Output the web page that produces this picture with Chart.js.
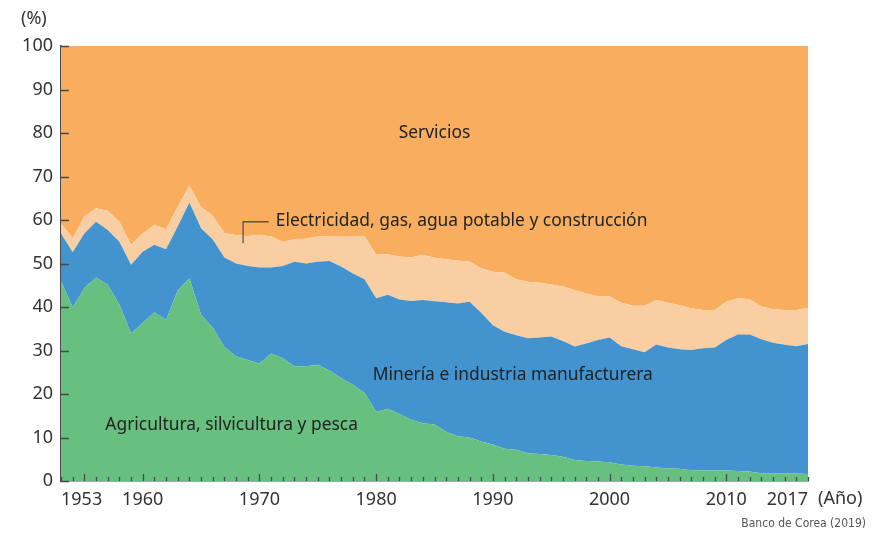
<!DOCTYPE html>
<html>
<head>
<meta charset="utf-8">
<script src="https://cdn.jsdelivr.net/npm/chart.js@4.4.1/dist/chart.umd.min.js"></script>
<style>
  html, body { margin: 0; padding: 0; background: #fff; }
  #wrap { width: 874px; height: 535px; position: relative; }
</style>
</head>
<body>
<div id="wrap"><canvas id="sectorChart"></canvas></div>
<script>
// years 1953-2017
const years = [];
for (let y = 1953; y <= 2017; y++) years.push(y);

const tickYears = [1953, 1960, 1970, 1980, 1990, 2000, 2010, 2017];
const majorTickYears = [1955, 1960, 1970, 1980, 1990, 2000, 2010];
const yTicks = [0, 10, 20, 30, 40, 50, 60, 70, 80, 90, 100];

// shares in %
const agricultura = [
  46.0, 39.9, 44.3, 46.8, 45.1, 40.6, 33.9, 36.3, 38.8, 37.0,
  43.8, 46.6, 38.2, 35.3, 30.8, 28.7, 27.8, 27.0, 29.3, 28.2,
  26.4, 26.4, 26.7, 25.4, 23.7, 22.1, 20.3, 15.9, 16.6, 15.4,
  14.1, 13.3, 13.0, 11.3, 10.3, 10.0, 9.1, 8.4, 7.4, 7.2,
  6.4, 6.2, 6.0, 5.6, 4.8, 4.6, 4.5, 4.3, 3.8, 3.5,
  3.4, 3.1, 2.9, 2.8, 2.5, 2.5, 2.4, 2.4, 2.3, 2.2,
  1.8, 1.8, 1.7, 1.7, 1.6
];
const mineria = [
  10.9, 12.7, 12.6, 12.8, 12.6, 14.4, 15.8, 16.4, 15.5, 16.3,
  14.7, 17.4, 19.9, 20.2, 20.6, 21.3, 21.6, 22.1, 19.8, 21.2,
  24.0, 23.6, 23.7, 25.2, 25.6, 25.6, 26.1, 26.1, 26.2, 26.3,
  27.3, 28.3, 28.3, 29.8, 30.5, 31.2, 29.6, 27.4, 26.9, 26.3,
  26.4, 26.8, 27.2, 26.6, 26.1, 27.0, 27.9, 28.7, 27.2, 26.8,
  26.2, 28.3, 27.8, 27.5, 27.6, 28.0, 28.3, 30.0, 31.4, 31.5,
  30.8, 30.0, 29.6, 29.3, 29.9
];
const electricidad = [
  2.3, 3.2, 3.9, 3.1, 4.4, 4.6, 4.6, 4.2, 4.6, 4.6,
  4.6, 3.8, 4.9, 5.5, 5.6, 6.5, 6.9, 7.5, 7.1, 5.6,
  5.2, 5.7, 5.8, 5.7, 7.0, 8.6, 9.9, 10.0, 9.3, 9.9,
  10.0, 10.4, 10.0, 9.9, 9.9, 9.2, 10.2, 12.3, 13.6, 12.9,
  13.0, 12.6, 12.0, 12.5, 13.0, 11.5, 10.1, 9.5, 10.0, 10.0,
  10.7, 10.2, 10.3, 10.1, 9.6, 8.8, 8.6, 8.8, 8.3, 8.1,
  7.5, 7.7, 8.0, 8.3, 8.3
];
const servicios = [
  40.8, 44.2, 39.2, 37.3, 37.9, 40.4, 45.7, 43.1, 41.1, 42.1,
  36.9, 32.2, 37.0, 39.0, 43.0, 43.5, 43.7, 43.4, 43.8, 45.0,
  44.4, 44.3, 43.8, 43.7, 43.7, 43.7, 43.7, 48.0, 47.9, 48.4,
  48.6, 48.0, 48.7, 49.0, 49.3, 49.6, 51.1, 51.9, 52.1, 53.6,
  54.2, 54.4, 54.8, 55.3, 56.1, 56.9, 57.5, 57.5, 59.0, 59.7,
  59.7, 58.4, 59.0, 59.6, 60.3, 60.7, 60.7, 58.8, 58.0, 58.2,
  59.9, 60.5, 60.7, 60.7, 60.2
];

const FONT = '"Noto Sans", "DejaVu Sans", sans-serif';
const AXIS = '#4a4a4a';

function area(label, data, color, fill) {
  return {
    label: label,
    data: data,
    backgroundColor: color,
    borderWidth: 0,
    pointRadius: 0,
    tension: 0,
    fill: fill
  };
}

// inward tick marks + in-plot labels
const decorations = {
  id: 'decorations',
  afterDraw(chart) {
    const ctx = chart.ctx;
    const xs = chart.scales.x, ys = chart.scales.y;
    const area = chart.chartArea;
    const px = yr => xs.getPixelForValue(yr - 1953);
    const py = v => ys.getPixelForValue(v);

    ctx.save();
    ctx.strokeStyle = AXIS;
    ctx.lineWidth = 1.3;
    ctx.beginPath();
    years.forEach(yr => {
      const x = Math.round(px(yr)) + 0.5;
      const len = majorTickYears.includes(yr) ? 7 : 4;
      ctx.moveTo(x, area.bottom);
      ctx.lineTo(x, area.bottom - len);
    });
    yTicks.forEach(v => {
      const y = Math.round(py(v)) + 0.5;
      ctx.moveTo(area.left, y);
      ctx.lineTo(area.left + 8, y);
    });
    ctx.stroke();

    ctx.fillStyle = '#222';
    ctx.font = '17.4px ' + FONT;
    ctx.textBaseline = 'middle';
    ctx.textAlign = 'center';
    ctx.fillText('Servicios', px(1985), py(80));
    ctx.textAlign = 'left';
    ctx.fillText('Electricidad, gas, agua potable y construcción', px(1971.4), py(59.8));
    ctx.fillText('Minería e industria manufacturera', px(1979.7), py(24.4));
    ctx.fillText('Agricultura, silvicultura y pesca', px(1956.8), py(12.9));

    // leader line for Electricidad
    ctx.strokeStyle = '#555';
    ctx.lineWidth = 1.3;
    ctx.beginPath();
    ctx.moveTo(px(1968.6), py(54.7));
    ctx.lineTo(px(1968.6), py(59.6));
    ctx.lineTo(px(1970.8), py(59.6));
    ctx.stroke();

    // axis titles and source
    ctx.fillStyle = '#333';
    ctx.font = '18px ' + FONT;
    ctx.textAlign = 'left';
    ctx.fillText('(%)', 21, 19);
    ctx.fillText('(Año)', 818, 499);
    ctx.fillStyle = '#555';
    ctx.font = '12px "Liberation Sans Narrow", "DejaVu Sans Condensed", sans-serif';
    ctx.textAlign = 'right';
    ctx.fillText('Banco de Corea (2019)', 866, 524);
    ctx.restore();
  }
};

new Chart(document.getElementById('sectorChart'), {
  type: 'line',
  data: {
    labels: years,
    datasets: [
      area('Agricultura, silvicultura y pesca', agricultura, '#67BF80', 'origin'),
      area('Minería e industria manufacturera', mineria, '#4393CF', '-1'),
      area('Electricidad, gas, agua potable y construcción', electricidad, '#F9CEA2', '-1'),
      area('Servicios', servicios, '#F9AE5F', '-1')
    ]
  },
  options: {
    responsive: true,
    maintainAspectRatio: false,
    animation: false,
    layout: { padding: { left: 0, right: 66, top: 46, bottom: 0 } },
    plugins: {
      legend: { display: false },
      tooltip: { enabled: false }
    },
    scales: {
      x: {
        type: 'category',
        offset: false,
        grid: { display: false, drawTicks: false },
        border: { display: true, color: AXIS, width: 1.5 },
        ticks: {
          autoSkip: false,
          maxRotation: 0,
          align: 'inner',
          padding: 8,
          color: '#333',
          font: { family: FONT, size: 18 },
          callback: function (val) {
            const yr = years[val];
            return tickYears.includes(yr) ? String(yr) : '';
          }
        },
        afterFit: function (scale) { scale.height = 54; }
      },
      y: {
        stacked: true,
        min: 0,
        max: 100,
        grid: { display: false, drawTicks: false },
        border: { display: true, color: AXIS, width: 1.5 },
        ticks: {
          stepSize: 10,
          padding: 8,
          color: '#333',
          font: { family: FONT, size: 18 }
        },
        afterFit: function (scale) { scale.width = 61; }
      }
    }
  },
  plugins: [decorations]
});
</script>
</body>
</html>
